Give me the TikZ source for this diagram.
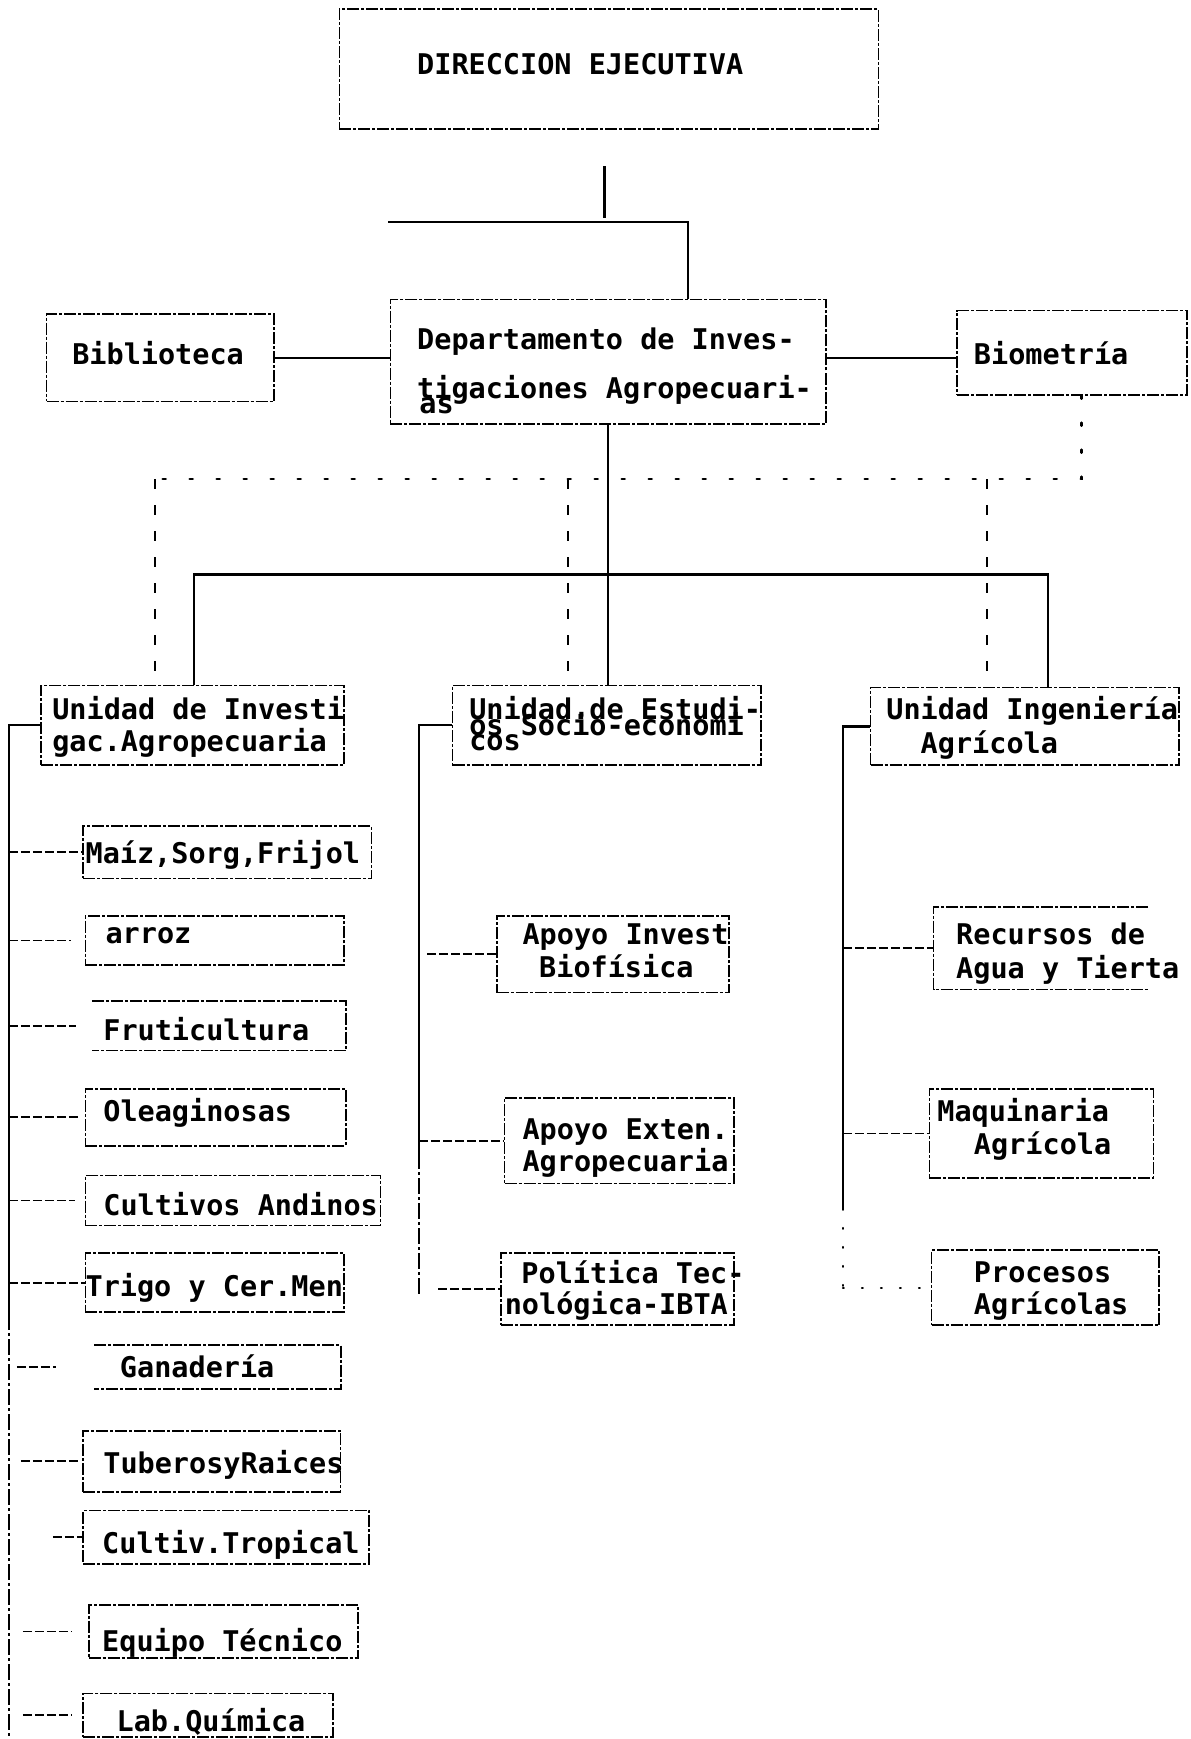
\documentclass[tikz,border=0pt]{standalone}
\usepackage{fontspec}
\newfontfamily\tw{DejaVu Sans Mono}
\usetikzlibrary{fit}
\begin{document}
\begin{tikzpicture}[x=1.109pt,y=-1.109pt,
  txt/.style={font=\tw\bfseries\fontsize{28.5}{32}\selectfont, inner sep=0pt, anchor=base west},
  tbox/.style={draw, line width=1.7pt, dash pattern=on 12pt off 2pt on 3pt off 2pt, inner sep=0pt},
  frame/.style={inner sep=0pt},
  edge/.style={line width=1.7pt, dash pattern=on 12pt off 2pt on 3pt off 2pt},
  trunkline/.style={line width=2.2pt},
  dotline/.style={line width=2.6pt, line cap=round, dash pattern=on 3pt off 24pt},
  dashv/.style={line width=1.7pt, dash pattern=on 10pt off 16pt},
  feed/.style={line width=1.8pt, dash pattern=on 9pt off 3pt},
  dotfeed/.style={line width=1.8pt, line cap=round, dash pattern=on 1pt off 18pt},
  brokentrunk/.style={line width=2.2pt, dash pattern=on 16pt off 3pt on 3pt off 3pt}
]
\useasboundingbox[fill=white] (0,0) rectangle (1073,1568);

% ---------- top level ----------
\node[tbox, fit={(306,8) (792,116)}] (dir) {};
\node[txt] (dirT) at (376,67) {DIRECCION EJECUTIVA};

\node[tbox, fit={(352,270) (745,382)}] (depto) {};
\node[txt] (deptoA) at (376,315) {Departamento de Inves-};
\node[txt] (deptoB) at (376,359) {tigaciones Agropecuari-};
\node[txt] (deptoC) at (378,373) {as};

\node[tbox, fit={(42,283) (247,362)}] (bib) {};
\node[txt] (bibT) at (65,329) {Biblioteca};

\node[tbox, fit={(863,280) (1070,356)}] (bio) {};
\node[txt] (bioT) at (878,329) {Biometría};

% ---------- units ----------
\node[tbox, fit={(37,618) (310,690)}] (uinv) {};
\node[txt] (uinvA) at (47,649) {Unidad de Investi};
\node[txt] (uinvB) at (47,678) {gac.Agropecuaria};

\node[tbox, fit={(408,618) (686,690)}] (uest) {};
\node[txt] (uestA) at (423,649) {Unidad.de Estudi-};
\node[txt] (uestB) at (423,663) {os Socio-economi};
\node[txt] (uestC) at (423,677) {cos};

\node[tbox, fit={(785,620) (1063,690)}] (uing) {};
\node[txt] (uingA) at (799,649) {Unidad Ingeniería};
\node[txt] (uingB) at (830,679) {Agrícola};

% ---------- crop programmes ----------
\node[tbox, fit={(75,745) (335,792)}] (maiz) {};
\node[txt] at (77,779) {Maíz,Sorg,Frijol};

\node[tbox, fit={(77,826) (310,870)}] (arroz) {};
\node[txt] at (95,851) {arroz};

\node[frame, fit={(83,903) (312,947)}] (fruti) {};
\draw[edge] (fruti.north west) -- (fruti.north east) -- (fruti.south east) -- (fruti.south west);
\node[txt] at (93,938) {Fruticultura};

\node[tbox, fit={(77,982) (312,1033)}] (olea) {};
\node[txt] at (93,1011) {Oleaginosas};

\node[tbox, fit={(77,1060) (343,1105)}] (andi) {};
\node[txt] at (93,1096) {Cultivos Andinos};

\node[tbox, fit={(77,1130) (310,1183)}] (trigo) {};
\node[txt] at (77,1169) {Trigo y Cer.Men};

\node[frame, fit={(85,1213) (307,1252)}] (gana) {};
\draw[edge] (gana.north west) -- (gana.north east) -- (gana.south east) -- (gana.south west);
\node[txt] at (108,1242) {Ganadería};

\node[tbox, fit={(75,1290) (307,1345)}] (tube) {};
\node[txt] at (93,1329) {TuberosyRaices};

\node[tbox, fit={(75,1362) (333,1410)}] (trop) {};
\node[txt] at (92,1401) {Cultiv.Tropical};

\node[tbox, fit={(80,1447) (323,1495)}] (equi) {};
\node[txt] at (92,1489) {Equipo Técnico};

\node[tbox, fit={(75,1527) (300,1566)}] (labq) {};
\node[txt] at (105,1561) {Lab.Química};

% ---------- socio-economic support ----------
\node[tbox, fit={(448,826) (657,895)}] (biof) {};
\node[txt] at (471,852) {Apoyo Invest};
\node[txt] at (486,881) {Biofísica};

\node[tbox, fit={(455,990) (662,1067)}] (exten) {};
\node[txt] at (471,1027) {Apoyo Exten.};
\node[txt] at (471,1056) {Agropecuaria};

\node[tbox, fit={(452,1130) (662,1195)}] (poli) {};
\node[txt] at (470,1157) {Política Tec-};
\node[txt] at (455,1185) {nológica-IBTA};

% ---------- engineering ----------
\node[frame, fit={(842,818) (1035,892)}] (recur) {};
\draw[edge] (recur.north east) -- (recur.north west) -- (recur.south west) -- (recur.south east);
\node[txt] at (862,852) {Recursos de};
\node[txt] at (862,882) {Agua y Tierta};

\node[tbox, fit={(838,982) (1040,1062)}] (maq) {};
\node[txt] at (845,1011) {Maquinaria};
\node[txt] at (878,1041) {Agrícola};

\node[tbox, fit={(840,1127) (1045,1195)}] (proc) {};
\node[txt] at (878,1156) {Procesos};
\node[txt] at (878,1185) {Agrícolas};

% ---------- upper connectors ----------
\coordinate (dj1) at (545,150);
\coordinate (dj2) at (545,197);
\coordinate (dh1) at (350,200);
\coordinate (dh2) at (620,200);
\draw[trunkline] (dj1) -- (dj2);
\draw[trunkline] (dh1) -- (dh2) -- (dh2 |- depto.north);

\draw[trunkline] (bib.east) -- (bib.east -| depto.west);
\draw[trunkline] (depto.east |- bib.east) -- (bio.west |- bib.east);

% staff link from Biometría
\coordinate (dR) at (975,432);
\coordinate (dL) at (140,432);
\draw[dotline] (bio.south -| dR) -- (dR) -- (dL);
\draw[dashv] (dL) -- (dL |- uinv.north);
\draw[dashv] (512,432) -- (512,618);
\draw[dashv] (890,432) -- (890,620);

% line authority to the units
\coordinate (barL) at (175,518);
\coordinate (barR) at (945,518);
\draw[trunkline] (depto.south) -- (depto.south |- uest.north);
\draw[trunkline] (barL |- uinv.north) -- (barL) -- (barR) -- (barR |- uing.north);

% ---------- left trunk ----------
\coordinate (tlTop) at (8,654);
\coordinate (tlMid) at (8,1185);
\coordinate (tlEnd) at (8,1568);
\draw[trunkline] (uinv.west) -- (tlTop) -- (tlMid);
\draw[brokentrunk] (tlMid) -- (tlEnd);
\draw[feed] (maiz.west -| tlTop) -- (maiz.west);
\draw[feed, shorten >=14pt] (arroz.west -| tlTop) -- (arroz.west);
\draw[feed, shorten >=16pt] (fruti.west -| tlTop) -- (fruti.west);
\draw[feed, shorten >=4pt] (olea.west -| tlTop) -- (olea.west);
\draw[feed, shorten >=10pt] (andi.west -| tlTop) -- (andi.west);
\draw[feed] (trigo.west -| tlTop) -- (trigo.west);
\draw[feed, shorten <=8pt, shorten >=38pt] (gana.west -| tlTop) -- (gana.west);
\draw[feed, shorten <=12pt, shorten >=2pt] (tube.west -| tlTop) -- (tube.west);
\draw[feed, shorten <=44pt] (trop.west -| tlTop) -- (trop.west);
\draw[feed, shorten <=14pt, shorten >=16pt] (equi.west -| tlTop) -- (equi.west);
\draw[feed, shorten <=14pt, shorten >=10pt] (labq.west -| tlTop) -- (labq.west);

% ---------- middle trunk ----------
\coordinate (tmTop) at (378,654);
\coordinate (tmMid) at (378,1040);
\coordinate (tmEnd) at (378,1168);
\draw[trunkline] (uest.west) -- (tmTop) -- (tmMid);
\draw[brokentrunk] (tmMid) -- (tmEnd);
\draw[feed, shorten <=8pt] (biof.west -| tmTop) -- (biof.west);
\draw[feed] (exten.west -| tmTop) -- (exten.west);
\draw[feed, shorten <=19pt] (poli.west -| tmTop) -- (poli.west);

% ---------- right trunk ----------
\coordinate (trTop) at (760,655);
\coordinate (trMid) at (760,1090);
\coordinate (trEnd) at (760,1160);
\draw[trunkline] (uing.west) -- (trTop) -- (trMid);
\draw[dotfeed] (trMid) -- (trEnd);
\draw[feed] (recur.west -| trTop) -- (recur.west);
\draw[feed] (maq.west -| trTop) -- (maq.west);
\draw[dotfeed] (proc.west -| trTop) -- (proc.west);
\end{tikzpicture}
\end{document}
